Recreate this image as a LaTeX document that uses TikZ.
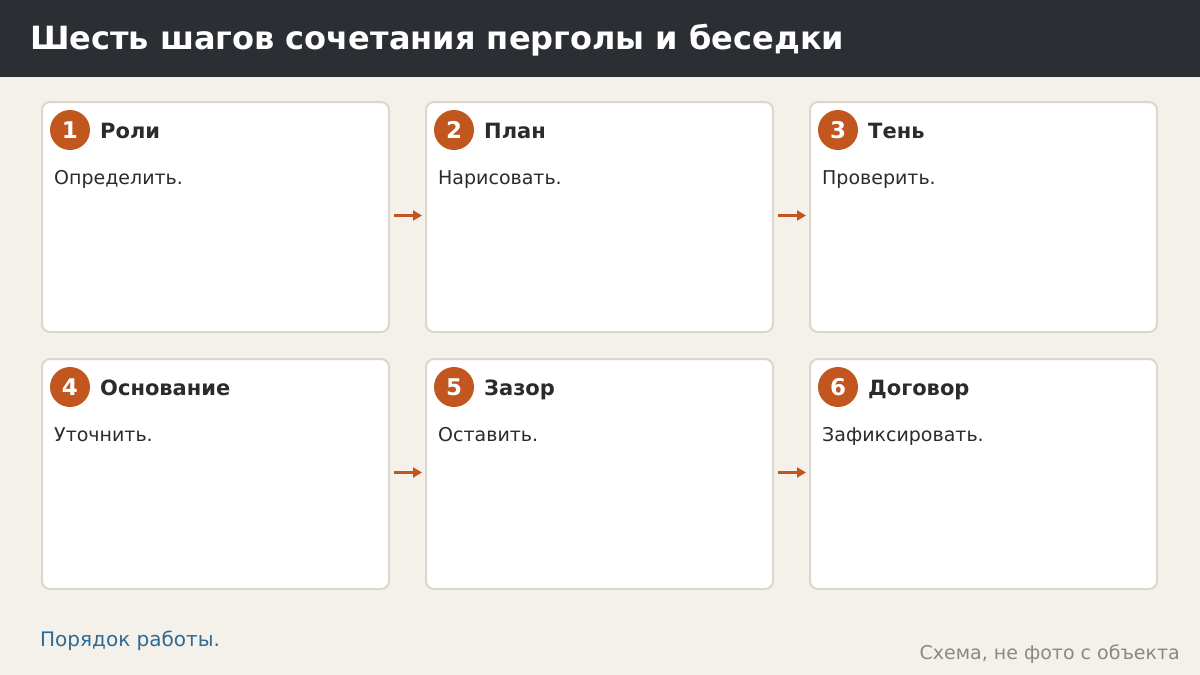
\documentclass[tikz,border=0pt]{standalone}
\usepackage{fontspec}
\setmainfont{DejaVu Sans}
\usetikzlibrary{arrows.meta}
\definecolor{bg}{HTML}{F4F1EB}
\definecolor{hdr}{HTML}{2B2E33}
\definecolor{cardline}{HTML}{DDD6CC}
\definecolor{accent}{HTML}{C2561F}
\definecolor{txt}{HTML}{2B2B2B}
\definecolor{foot}{HTML}{2E6A96}
\definecolor{note}{HTML}{8A8886}
\tikzset{
  card/.style={draw=cardline, line width=2pt, fill=white, rounded corners=8pt, minimum width=347pt, minimum height=230pt, anchor=north west, inner sep=0pt},
  badge/.style={circle, fill=accent, minimum size=40pt, inner sep=0pt, text=white, font=\bfseries\fontsize{23}{26}\selectfont},
  ctitle/.style={anchor=base west, inner sep=0pt, text=txt, font=\bfseries\fontsize{21}{24}\selectfont},
  cbody/.style={anchor=base west, inner sep=0pt, text=txt, font=\fontsize{19}{22}\selectfont},
  flow/.style={-{Triangle[length=9pt,width=10pt]}, draw=accent, line width=3.5pt, shorten <=4pt, shorten >=3pt}
}
\begin{document}
\begin{tikzpicture}[x=1pt,y=-1pt]
\useasboundingbox (0,0) rectangle (1200,675);
\fill[bg] (0,0) rectangle (1200,675);
\fill[hdr] (0,0) rectangle (1200,77);
\node[anchor=base west, inner sep=0pt, text=white, font=\bfseries\fontsize{32}{36}\selectfont] (title) at (30,49) {Шесть шагов сочетания перголы и беседки};
% cards
\foreach \i/\x/\y/\t/\b in {1/41/101/Роли/Определить., 2/425/101/План/Нарисовать., 3/809/101/Тень/Проверить., 4/41/358/Основание/Уточнить., 5/425/358/Зазор/Оставить., 6/809/358/Договор/Зафиксировать.}{
  \node[card] (c\i) at (\x,\y) {};
  \node[badge] (b\i) at (\x+29,\y+29) {\i};
  \node[ctitle] (t\i) at (\x+59,\y+37) {\t};
  \node[cbody] (d\i) at (\x+13,\y+83) {\b};
}
\draw[flow] ([yshift=1.5pt]c1.east) -- ([yshift=1.5pt]c2.west);
\draw[flow] ([yshift=1.5pt]c2.east) -- ([yshift=1.5pt]c3.west);
\draw[flow] ([yshift=1.5pt]c4.east) -- ([yshift=1.5pt]c5.west);
\draw[flow] ([yshift=1.5pt]c5.east) -- ([yshift=1.5pt]c6.west);
\node[anchor=base west, inner sep=0pt, text=foot, font=\fontsize{20}{23}\selectfont] (order) at (40,646) {Порядок работы.};
\node[anchor=base east, inner sep=0pt, text=note, font=\fontsize{19}{22}\selectfont] (scheme) at (1180,659) {Схема, не фото с объекта};
\end{tikzpicture}
\end{document}
